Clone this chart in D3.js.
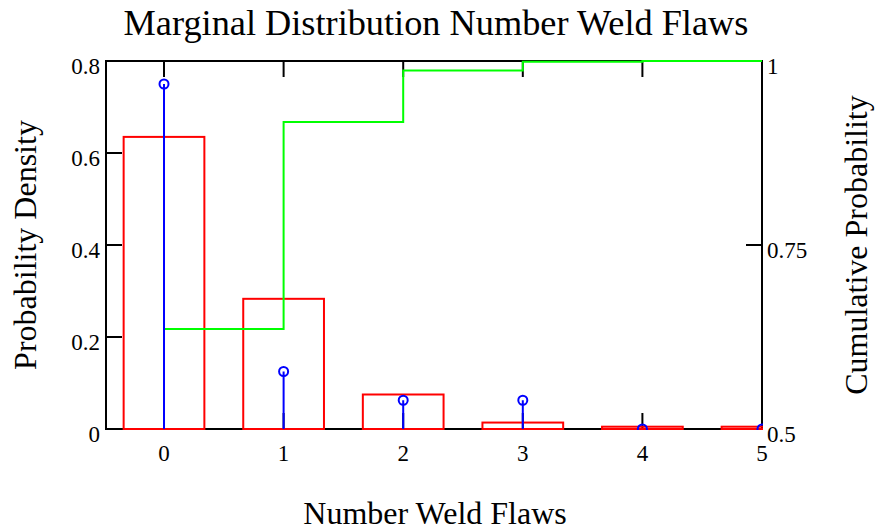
<!DOCTYPE html>
<html lang="en">
  <head>
    <meta charset="UTF-8" />
    <title>Marginal Distribution Number Weld Flaws</title>
    <script src="https://d3js.org/d3.v7.min.js"></script>
    <style>
      body { margin: 0; background: #fff; }
      text { font-family: "Times New Roman", "Liberation Serif", serif; fill: #000; }
    </style>
  </head>
  <body>
    <div id="chart"></div>
    <script>
      // values
      const flaws = [0, 1, 2, 3, 4, 5];
      const histDensity = [0.635, 0.283, 0.075, 0.014, 0.005, 0.005];
      const sampleDensity = [0.75, 0.125, 0.0625, 0.0625, 0, 0];
      const cumulative = [0.636, 0.917, 0.987, 0.999, 1, 1];
      const leftTicks = [0, 0.2, 0.4, 0.6, 0.8];
      const rightTicks = [0.5, 0.75, 1];

      const W = 876, H = 531;
      const plot = { left: 106, right: 762, top: 61, bottom: 429 };
      const barHalf = 0.3375;

      const svg = d3.select("#chart").append("svg")
        .attr("width", W).attr("height", H);

      const x = d3.scaleLinear().domain([-0.485, 5]).range([plot.left, plot.right]);
      const yL = d3.scaleLinear().domain([0, 0.8]).range([plot.bottom, plot.top]);
      const yR = d3.scaleLinear().domain([0.5, 1]).range([plot.bottom, plot.top]);

      svg.append("defs").append("clipPath").attr("id", "clip")
        .append("rect")
        .attr("x", plot.left - 1).attr("y", plot.top - 1)
        .attr("width", plot.right - plot.left + 2)
        .attr("height", plot.bottom - plot.top + 2);

      // frame
      svg.append("rect")
        .attr("x", plot.left).attr("y", plot.top)
        .attr("width", plot.right - plot.left)
        .attr("height", plot.bottom - plot.top)
        .attr("fill", "none").attr("stroke", "#000").attr("stroke-width", 2);

      function styleAxis(g) {
        g.select(".domain").remove();
        g.selectAll(".tick line").attr("stroke", "#000").attr("stroke-width", 2);
        g.selectAll(".tick text").attr("font-size", 23)
          .style("font-family", '"Times New Roman", "Liberation Serif", serif');
      }

      // bottom axis
      svg.append("g").attr("transform", `translate(0,${plot.bottom})`)
        .call(d3.axisBottom(x).offset(0).tickValues(flaws).tickSize(-16).tickFormat(d3.format("d")))
        .call(styleAxis)
        .call(g => g.selectAll(".tick text").attr("y", 32).attr("dy", 0));

      // top axis (no labels)
      svg.append("g").attr("transform", `translate(0,${plot.top})`)
        .call(d3.axisTop(x).offset(0).tickValues(flaws).tickSize(-16).tickFormat(""))
        .call(styleAxis);

      // left axis
      svg.append("g").attr("transform", `translate(${plot.left},0)`)
        .call(d3.axisLeft(yL).offset(0).tickValues(leftTicks).tickSize(-16).tickPadding(6).tickFormat(d => String(d)))
        .call(styleAxis)
        .call(g => g.selectAll(".tick text").attr("dy", "0.58em"));

      // right axis
      svg.append("g").attr("transform", `translate(${plot.right},0)`)
        .call(d3.axisRight(yR).offset(0).tickValues(rightTicks).tickSize(-16).tickPadding(5).tickFormat(d => String(d)))
        .call(styleAxis)
        .call(g => g.selectAll(".tick text").attr("dy", "0.58em"));

      const marks = svg.append("g").attr("clip-path", "url(#clip)");

      // histogram bars
      marks.selectAll("rect.bar")
        .data(flaws)
        .join("rect")
        .attr("class", "bar")
        .attr("x", d => x(d - barHalf))
        .attr("y", (d, i) => yL(histDensity[i]))
        .attr("width", d => x(d + barHalf) - x(d - barHalf))
        .attr("height", (d, i) => yL(0) - yL(histDensity[i]))
        .attr("fill", "none").attr("stroke", "#ff0000").attr("stroke-width", 2);

      // cumulative step line
      const line = d3.line()
        .x(d => x(d[0])).y(d => yR(d[1]))
        .curve(d3.curveStepAfter);
      marks.append("path")
        .datum(flaws.map((d, i) => [d, cumulative[i]]))
        .attr("d", line)
        .attr("fill", "none").attr("stroke", "#00ff00").attr("stroke-width", 2);

      // stems
      marks.selectAll("line.stem")
        .data(flaws)
        .join("line")
        .attr("class", "stem")
        .attr("x1", d => x(d)).attr("x2", d => x(d))
        .attr("y1", yL(0))
        .attr("y2", (d, i) => yL(sampleDensity[i]))
        .attr("stroke", "#0000ff").attr("stroke-width", 2);
      marks.selectAll("circle.stem")
        .data(flaws)
        .join("circle")
        .attr("class", "stem")
        .attr("cx", d => x(d))
        .attr("cy", (d, i) => yL(sampleDensity[i]))
        .attr("r", 4.5)
        .attr("fill", "none").attr("stroke", "#0000ff").attr("stroke-width", 2);

      // titles
      svg.append("text")
        .attr("x", 436).attr("y", 35)
        .attr("text-anchor", "middle").attr("font-size", 36.3)
        .text("Marginal Distribution Number Weld Flaws");
      svg.append("text")
        .attr("x", 435).attr("y", 524)
        .attr("text-anchor", "middle").attr("font-size", 32)
        .text("Number Weld Flaws");
      svg.append("text")
        .attr("transform", `translate(36,${(plot.top + plot.bottom) / 2}) rotate(-90)`)
        .attr("text-anchor", "middle").attr("font-size", 32)
        .text("Probability Density");
      svg.append("text")
        .attr("transform", `translate(867,${(plot.top + plot.bottom) / 2}) rotate(-90)`)
        .attr("text-anchor", "middle").attr("font-size", 32)
        .text("Cumulative Probability");
    </script>
  </body>
</html>
